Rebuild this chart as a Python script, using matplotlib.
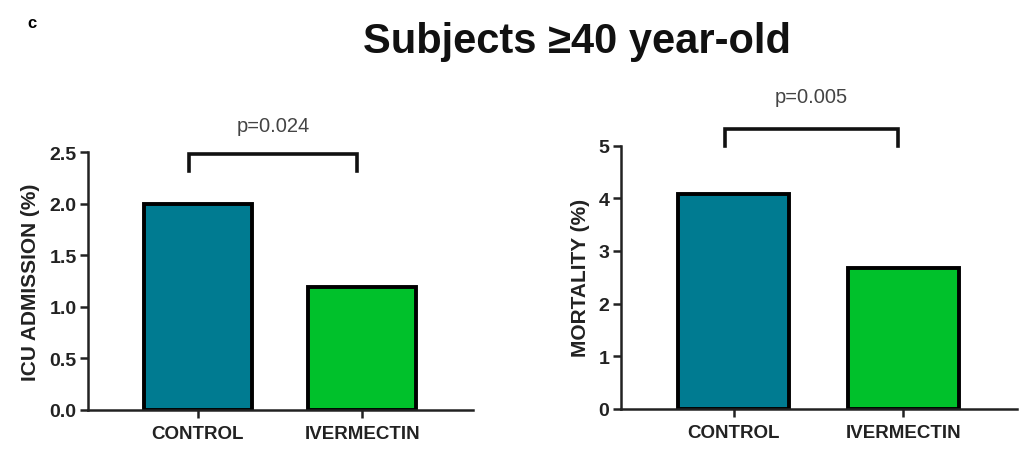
import matplotlib
matplotlib.use("Agg")
import matplotlib.pyplot as plt

plt.rcParams['font.family'] = ['Liberation Sans', 'DejaVu Sans']

groups = ['CONTROL', 'IVERMECTIN']
icu = [2.0, 1.19]
mortality = [4.08, 2.68]
colors = ['#007B91', '#00C12B']

icu_ticks = [0.0, 0.5, 1.0, 1.5, 2.0, 2.5]
mort_ticks = [0, 1, 2, 3, 4, 5]

p_icu = 'p=0.024'
p_mort = 'p=0.005'

fig = plt.figure(figsize=(10.24, 4.6), dpi=100)

ax1 = fig.add_axes([0.0856, 0.107, 0.376, 0.560])
ax2 = fig.add_axes([0.606, 0.109, 0.387, 0.572])


def style(ax, vals, ticks, ylabel, fmt, ptxt, brk_top, brk_tip, ptxt_y, lpad):
    x = range(len(groups))
    ax.bar(x, vals, width=0.655, color=colors, edgecolor='black', linewidth=2.8)
    ax.set_xlim(-0.668, 1.67)
    ax.set_ylim(ticks[0], ticks[-1])
    ax.set_yticks(ticks)
    ax.set_yticklabels([fmt.format(t) for t in ticks], fontsize=14, fontweight='bold', color='#222222')
    ax.set_xticks(list(x))
    ax.set_xticklabels(groups, fontsize=13.5, fontweight='bold', color='#222222')
    ax.set_ylabel(ylabel, fontsize=15, fontweight='bold', color='#222222', labelpad=lpad)
    for s in ['top', 'right']:
        ax.spines[s].set_visible(False)
    for s in ['left', 'bottom']:
        ax.spines[s].set_linewidth(1.8)
        ax.spines[s].set_color('#222222')
    ax.tick_params(axis='both', width=1.8, length=6, color='#222222')
    ax.tick_params(axis='y', pad=2)
    ax.tick_params(axis='x', pad=5)
    # significance bracket
    x0, x1 = -0.05, 0.97
    ax.plot([x0, x0, x1, x1], [brk_tip, brk_top, brk_top, brk_tip],
            color='#111111', lw=2.6, clip_on=False, solid_joinstyle='miter')
    ax.text((x0 + x1) / 2, ptxt_y, ptxt, ha='center', va='center',
            fontsize=14.5, color='#444444')


style(ax1, icu, icu_ticks, 'ICU ADMISSION (%)', '{:.1f}', p_icu, 2.48, 2.32, 2.76, 7)
style(ax2, mortality, mort_ticks, 'MORTALITY (%)', '{:d}', p_mort, 5.32, 5.0, 5.93, 6)

fig.text(0.563, 0.908, 'Subjects \u226540 year-old', ha='center', va='center',
         fontsize=30, fontweight='bold', color='#111111')
fig.text(0.031, 0.948, 'c', ha='center', va='center', fontsize=12, fontweight='bold')

fig.savefig('out.png', dpi=100)
